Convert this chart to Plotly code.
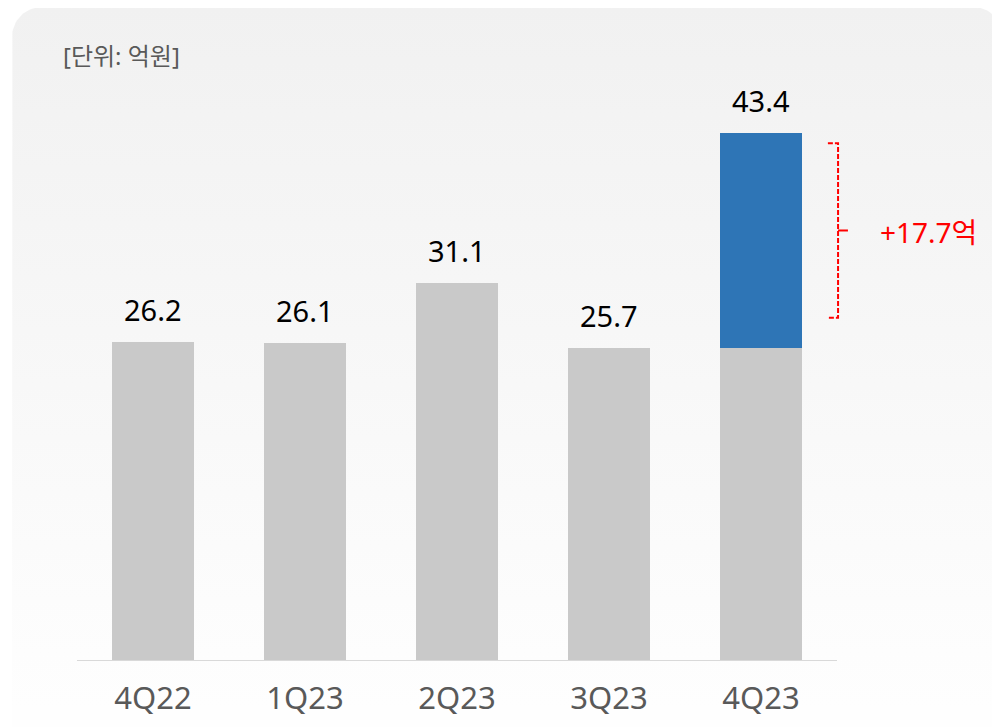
import numpy as np
import plotly.graph_objects as go

# ---- data ----
categories = ["4Q22", "1Q23", "2Q23", "3Q23", "4Q23"]
base_values = [26.2, 26.1, 31.1, 25.7, 25.7]
increase_values = [0, 0, 0, 0, 17.7]
total_labels = ["26.2", "26.1", "31.1", "25.7", "43.4"]
increase_label = "+17.7억"
unit_label = "[단위: 억원]"

totals = [b + i for b, i in zip(base_values, increase_values)]

FONT = "Noto Sans, Noto Sans CJK KR"
W, H = 1000, 727
OFF = 8  # page offset compensation

fig = go.Figure()

# ---- background card (full-page axes x/y in pixel units) ----
r = 30
x0, x1, y0, y1 = 12 - OFF, 1003 - OFF, 7 - OFF, 740
t1 = np.linspace(np.pi, 1.5 * np.pi, 20)
t2 = np.linspace(1.5 * np.pi, 2 * np.pi, 20)
cx = [x0] + list(x0 + r + r * np.cos(t1)) + list(x1 - r + r * np.cos(t2)) + [x1, x0]
cy = [y1] + list(y0 + r + r * np.sin(t1)) + list(y0 + r + r * np.sin(t2)) + [y1, y1]
fig.add_trace(go.Scatter(
    x=cx, y=cy, mode="lines", fill="toself", line=dict(width=0),
    fillgradient=dict(type="vertical", colorscale=[[0, "#f1f1f1"], [1, "#fefefe"]],
                      start=y0, stop=700),
    xaxis="x", yaxis="y", hoverinfo="skip", showlegend=False))

# ---- bars (axes x2/y2) ----
fig.add_trace(go.Bar(x=categories, y=base_values, marker_color="#c9c9c9",
                     width=0.54, xaxis="x2", yaxis="y2", hoverinfo="skip",
                     marker_line_width=0))
fig.add_trace(go.Bar(x=categories, y=increase_values, marker_color="#2e75b6",
                     width=0.54, xaxis="x2", yaxis="y2", hoverinfo="skip",
                     marker_line_width=0))

# total labels
for c, t, lab in zip(categories, totals, total_labels):
    fig.add_annotation(x=c, y=t, xref="x2", yref="y2", text=lab, showarrow=False,
                       yanchor="bottom", yshift=11,
                       font=dict(family=FONT, size=29, color="#000000"))

# baseline
fig.add_shape(type="line", xref="x2", yref="y2", x0=-0.5, x1=4.5, y0=0, y1=0,
              line=dict(color="#d9d9d9", width=2))

# bracket for increase
last = len(categories) - 1
top = totals[last] - 0.85
bot = base_values[last] + 2.5
mid = (top + bot) / 2
xa, xb, xc = last + 0.44, last + 0.507, last + 0.572
fig.add_shape(type="path", xref="x2", yref="y2",
              path=f"M {xa},{top} L {xb},{top} L {xb},{bot} L {xa},{bot}",
              line=dict(color="#ff0000", width=2, dash="5px,2px"))
fig.add_shape(type="line", xref="x2", yref="y2", x0=xb, x1=xc, y0=mid, y1=mid,
              line=dict(color="#ff0000", width=2))
fig.add_annotation(x=last + 0.77, y=mid, xref="x2", yref="y2", text=increase_label,
                   showarrow=False, xanchor="left", yanchor="middle", yshift=-2,
                   font=dict(family=FONT, size=28, color="#ff0000"))

# unit label
fig.add_annotation(x=(61 - OFF) / W, y=1 - (56 - OFF) / H, xref="paper", yref="paper",
                   text=unit_label, showarrow=False, xanchor="left", yanchor="middle",
                   font=dict(family=FONT, size=24, color="#595959"))

ppu = 12.17
axis_y = 661 - OFF
top_y = 60 - OFF
fig.update_layout(
    width=W, height=H,
    margin=dict(l=0, r=0, t=0, b=0),
    paper_bgcolor="#ffffff", plot_bgcolor="rgba(0,0,0,0)",
    barmode="stack", showlegend=False, hovermode=False,
    xaxis=dict(domain=[0, 1], range=[0, W], visible=False, fixedrange=True),
    yaxis=dict(domain=[0, 1], range=[H, 0], visible=False, fixedrange=True),
    xaxis2=dict(domain=[(77 - OFF) / W, (989 - OFF) / W], range=[-0.5, 5.5], anchor="y2",
                showgrid=False, showline=False, zeroline=False,
                ticks="outside", ticklen=10, tickcolor="rgba(0,0,0,0)",
                tickfont=dict(family=FONT, size=31, color="#595959")),
    yaxis2=dict(domain=[(H - axis_y) / H, 1 - top_y / H],
                range=[0, (axis_y - top_y) / ppu], anchor="x2",
                visible=False, showgrid=False, zeroline=False),
)

fig.write_html("out.html")
